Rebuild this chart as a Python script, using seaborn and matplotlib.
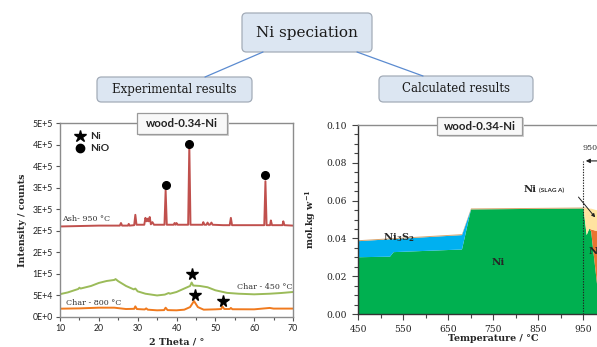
import numpy as np
import pandas as pd
import matplotlib
matplotlib.use("Agg")
import matplotlib.pyplot as plt
import seaborn as sns
from matplotlib.patches import FancyBboxPatch, Rectangle
from matplotlib.lines import Line2D
from matplotlib.ticker import MultipleLocator, FixedLocator, FormatStrFormatter

# ---------------- data: XRD patterns (left) ----------------
ash_theta = [10, 15, 20, 25.4, 25.7, 26.0, 27.5, 27.7, 27.9, 29.1, 29.4, 29.7,
             31.7, 32.0, 32.3, 32.5, 32.8, 33.1, 33.4, 33.8, 34.2, 36.0, 36.9,
             37.2, 37.5, 39.3, 39.5, 39.8, 40.0, 40.3, 43.0, 43.3, 43.6, 46.7,
             46.9, 47.2, 47.7, 48.0, 48.3, 48.6, 49.0, 49.3, 52.0, 53.7, 54.0,
             54.3, 62.6, 62.9, 63.2, 64.1, 64.3, 64.6, 67.3, 67.5, 67.8, 70]
ash_kcounts = [210, 211, 212, 212, 218, 212, 212, 216, 212, 213, 237, 214,
               214, 230, 222, 228, 222, 232, 215, 220, 214, 214, 214,
               294, 214, 214, 218, 214, 218, 214, 214, 398, 214, 214,
               220, 214, 214, 219, 214, 214, 219, 214, 213, 213, 230,
               213, 213, 315, 213, 213, 224, 213, 213, 222, 213, 212]

char450_theta = [10, 12, 14.7, 15, 15.3, 18, 20, 22, 24, 24.3, 25, 27, 29, 29.4,
                 30, 32, 35, 37, 38, 38.3, 40, 42, 43.5, 43.9, 44.3, 46, 48, 50,
                 53, 56, 60, 64, 67, 70]
char450_kcounts = [53, 57, 65, 68, 66, 72, 79, 83.5, 86, 88, 83, 72, 64, 66,
                   59.5, 54, 50, 52, 55.7, 54, 58, 66, 72, 80, 73, 72, 69, 62,
                   56, 54, 52.6, 54, 55.7, 58]

char800_theta = [10, 15, 20, 24, 27, 29.1, 29.4, 29.8, 31.8, 32.2, 32.6, 35, 36.8,
                 37.2, 37.7, 40, 42, 43.5, 44.5, 45.5, 47, 50, 51.5, 51.8, 52.3,
                 53.7, 54, 54.4, 60, 64, 65, 70]
char800_kcounts = [19.3, 20, 21.6, 21.6, 18.5, 19, 24.7, 18.5, 17.5, 20, 17, 15.5, 16,
                   21.6, 16, 15.5, 17, 23, 37, 23, 17, 17.8, 18.5, 24.7, 18.5,
                   18.5, 21, 18, 17.8, 21, 19.5, 19.5]

ni_star_theta = [44.0, 44.8, 51.9]
ni_star_kcounts = [100, 50, 37]
nio_dot_theta = [37.2, 43.3, 62.9]
nio_dot_kcounts = [307, 402, 330]

intensity_ticks_k = [0, 50, 100, 150, 200, 250, 300, 350, 400, 450]
intensity_tick_labels = ["0E+0", "5E+4", "1E+5", "2E+5", "2E+5", "3E+5",
                         "3E+5", "4E+5", "4E+5", "5E+5"]

# ---------------- data: calculated speciation (right) ----------------
temperature = [450, 520, 528, 680, 700, 950, 957, 963, 967, 982, 990]
ni_metal = [0.0303, 0.0306, 0.0330, 0.0344, 0.0556, 0.0561, 0.0420, 0.0455, 0.0440, 0.0120, 0.0]
ni3s2 = [0.0085, 0.0092, 0.0069, 0.0076, 0.0, 0.0, 0.0, 0.0, 0.0, 0.0, 0.0]
nio = [0.0, 0.0, 0.0, 0.0, 0.0, 0.0, 0.0, 0.0, 0.0010, 0.0320, 0.0440]
ni_slag_a = [0.0, 0.0, 0.0, 0.0, 0.0, 0.0, 0.0145, 0.0105, 0.0110, 0.0110, 0.0100]
ni_other = [0.0005, 0.0005, 0.0005, 0.0005, 0.0005, 0.0005, 0.0, 0.0, 0.0, 0.0, 0.0]
slag_onset_T = 950
temp_ticks = [450, 550, 650, 750, 850, 950]

# ---------------- style ----------------
sns.set_style("ticks")
plt.rcParams["font.family"] = ["DejaVu Serif", "DejaVu Sans"]
plt.rcParams["mathtext.fontset"] = "dejavuserif"

W, H = 597, 347
fig = plt.figure(figsize=(W / 100, H / 100), dpi=100)
inch = fig.dpi_scale_trans


def bx(x):
    return x / 100.0


def by(y):
    return (H - y) / 100.0


# ---------------- top diagram ----------------
box_fc = "#dce6f2"
box_ec = "#a3acb8"
link_c = "#5b8bd0"


def node(x0, y0, x1, y1, text, size):
    p = FancyBboxPatch((bx(x0), by(y1)), bx(x1 - x0), (y1 - y0) / 100.0,
                       boxstyle="round,pad=0,rounding_size=0.045",
                       transform=inch, fc=box_fc, ec=box_ec, lw=0.9)
    fig.add_artist(p)
    fig.text(bx((x0 + x1) / 2), by((y0 + y1) / 2), text, transform=inch,
             ha="center", va="center", fontsize=size, color="#1a1a1a",
             family="DejaVu Serif")


fig.add_artist(Line2D([bx(263), bx(205)], [by(52), by(77)], transform=inch, color=link_c, lw=0.9))
fig.add_artist(Line2D([bx(357), bx(423)], [by(52), by(76)], transform=inch, color=link_c, lw=0.9))
node(242, 13, 372, 52, "Ni speciation", 11)
node(97, 77, 252, 102, "Experimental results", 8.5)
node(379, 76, 533, 102, "Calculated results", 8.5)

# ---------------- left panel ----------------
ax1 = fig.add_axes([60 / W, (H - 317) / H, (293 - 60) / W, (317 - 123) / H])
df_xrd = pd.concat([
    pd.DataFrame({"theta": ash_theta, "counts": np.array(ash_kcounts) * 1e3, "sample": "Ash- 950 °C"}),
    pd.DataFrame({"theta": char450_theta, "counts": np.array(char450_kcounts) * 1e3, "sample": "Char - 450 °C"}),
    pd.DataFrame({"theta": char800_theta, "counts": np.array(char800_kcounts) * 1e3, "sample": "Char - 800 °C"}),
])
sns.lineplot(data=df_xrd, x="theta", y="counts", hue="sample", estimator=None,
             palette={"Ash- 950 °C": "#c0504d", "Char - 450 °C": "#9bbb59", "Char - 800 °C": "#f07a1e"},
             lw=1.4, ax=ax1, legend=False, sort=False)
ax1.plot(ni_star_theta, np.array(ni_star_kcounts) * 1e3, ls="none", marker="*", ms=8.5, color="black")
ax1.plot(nio_dot_theta, np.array(nio_dot_kcounts) * 1e3, ls="none", marker="o", ms=5.5, color="black")

ax1.set_xlim(10, 70)
ax1.set_ylim(0, 450e3)
ax1.xaxis.set_major_locator(MultipleLocator(10))
ax1.xaxis.set_minor_locator(MultipleLocator(5))
ax1.yaxis.set_major_locator(FixedLocator(np.array(intensity_ticks_k) * 1e3))
ax1.set_yticklabels(intensity_tick_labels)
ax1.tick_params(which="both", direction="out", colors="#555555", labelcolor="#222222",
                labelsize=6.3, width=0.8)
ax1.tick_params(which="major", length=3, pad=2)
ax1.tick_params(which="minor", length=2)
for lab in ax1.get_xticklabels() + ax1.get_yticklabels():
    lab.set_family("Lato")
for s in ax1.spines.values():
    s.set_visible(True)
    s.set_color("#8c8c8c")
    s.set_linewidth(1.0)
ax1.set_xlabel("2 Theta / °", fontsize=6.8, fontweight="bold", labelpad=3)
ax1.set_ylabel("Intensity / counts", fontsize=6.8, fontweight="bold", labelpad=4)

ax1.text(10.6, 219e3, "Ash- 950 °C", fontsize=5.8, ha="left", va="bottom", color="#333333")
ax1.text(69.8, 61e3, "Char - 450 °C", fontsize=5.8, ha="right", va="bottom", color="#333333")
ax1.text(11.5, 23e3, "Char - 800 °C", fontsize=5.8, ha="left", va="bottom", color="#333333")

leg_handles = [Line2D([], [], ls="none", marker="*", ms=9, color="black"),
               Line2D([], [], ls="none", marker="o", ms=6, color="black")]
ax1.legend(leg_handles, ["Ni", "NiO"], loc="upper left", bbox_to_anchor=(0.035, 0.985),
           frameon=False, handlelength=1.0, handletextpad=0.5, labelspacing=0.25,
           borderaxespad=0.2, prop={"family": "Lato", "weight": "bold", "size": 7.5})


def title_box(x0, y0, x1, y1):
    fig.add_artist(Rectangle((bx(x0) + 0.015, by(y1) - 0.015), bx(x1 - x0), (y1 - y0) / 100.0,
                             transform=inch, fc="#d0d0d0", ec="none", zorder=5))
    fig.add_artist(Rectangle((bx(x0), by(y1)), bx(x1 - x0), (y1 - y0) / 100.0,
                             transform=inch, fc="#f8f8f8", ec="#9a9a9a", lw=0.9, zorder=6))
    fig.text(bx((x0 + x1) / 2), by((y0 + y1) / 2), "wood-0.34-Ni", transform=inch,
             ha="center", va="center", fontsize=8.3, fontweight="bold", family="Lato",
             color="#222222", zorder=7)


title_box(137, 113, 227, 134)

# ---------------- right panel ----------------
ax2 = fig.add_axes([358 / W, (H - 314) / H, 270 / W, (314 - 125) / H])
ax2.stackplot(temperature, ni_metal, ni3s2, nio, ni_slag_a, ni_other,
              colors=["#00b050", "#00b0f0", "#ea7530", "#ffe3a0", "#d9a36a"], lw=0)
ax2.set_xlim(450, 1050)
ax2.set_ylim(0, 0.10)
ax2.xaxis.set_major_locator(FixedLocator(temp_ticks))
ax2.xaxis.set_minor_locator(MultipleLocator(50))
ax2.yaxis.set_major_locator(MultipleLocator(0.02))
ax2.yaxis.set_minor_locator(MultipleLocator(0.005))
ax2.yaxis.set_major_formatter(FormatStrFormatter("%.2f"))
ax2.tick_params(which="both", direction="out", colors="#444444", labelcolor="#222222",
                labelsize=6.6, width=0.8)
ax2.tick_params(which="major", length=4, pad=4)
ax2.tick_params(which="minor", length=3)
for side in ["left", "bottom"]:
    ax2.spines[side].set_color("#333333")
    ax2.spines[side].set_linewidth(1.0)
ax2.spines["top"].set_visible(True)
ax2.spines["top"].set_color("#8c8c8c")
ax2.spines["top"].set_linewidth(1.0)
ax2.spines["right"].set_visible(False)
ax2.set_xlabel("Temperature / °C", fontsize=6.8, fontweight="bold", labelpad=0)
ax2.set_ylabel(r"mol.kg w$^{\mathbf{-1}}$", fontsize=6.8, fontweight="bold", labelpad=6)

ax2.plot([slag_onset_T, slag_onset_T], [0, 0.081], ls=(0, (1.2, 1.2)), color="#222222", lw=0.8)
ax2.annotate("", xy=(slag_onset_T, 0.081), xytext=(1000, 0.081),
             arrowprops=dict(arrowstyle="-|>", color="#222222", lw=0.8, mutation_scale=6))
ax2.text(948, 0.088, "950", fontsize=5.8, ha="left", va="center", color="#333333")

ax2.text(819, 0.066, "Ni", fontsize=7.2, fontweight="bold", ha="left", va="center")
ax2.text(852, 0.0655, "(SLAG A)", fontsize=4.6, fontweight="bold", family="Lato",
         ha="left", va="center")
ax2.annotate("", xy=(981, 0.050), xytext=(936, 0.063),
             arrowprops=dict(arrowstyle="-|>", color="#222222", lw=0.7, mutation_scale=5))
ax2.text(962, 0.033, "N", fontsize=7.2, fontweight="bold", ha="left", va="center")
ax2.text(540, 0.0405, r"$\mathbf{Ni_3S_2}$", fontsize=7.2, ha="center", va="center")
ax2.text(762, 0.027, "Ni", fontsize=7.4, fontweight="bold", ha="center", va="center")

title_box(437, 117, 522, 135)

fig.savefig("out.png", dpi=100)
